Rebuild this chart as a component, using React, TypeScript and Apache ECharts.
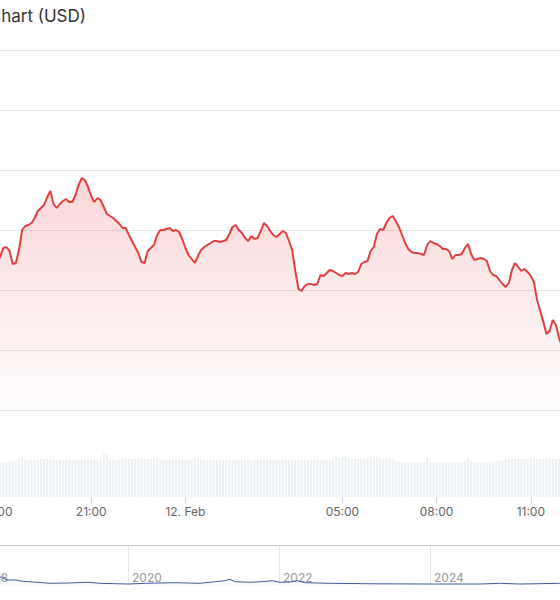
import React, { useEffect, useRef } from 'react';
import * as echarts from 'echarts';

const titleText = 'Price Chart (USD)';

// 6-minute samples starting 11 Feb 18:00
const startHour = 18;
const stepMinutes = 6;

const priceValues = [
  104.8, 105.3, 106.2, 106.3, 105.9, 104.6, 104.7, 106.0, 108.0, 108.4,
  108.5, 108.7, 109.2, 109.9, 110.2, 110.5, 111.3, 111.9, 110.6, 110.2,
  110.6, 110.9, 111.1, 110.8, 110.8, 111.5, 112.5, 113.2, 113.0, 112.3,
  111.4, 110.8, 111.2, 111.0, 110.3, 109.6, 109.4, 109.2, 108.9, 108.6,
  108.2, 108.2, 107.5, 106.9, 106.3, 105.7, 104.8, 104.7, 105.9, 106.2,
  106.5, 107.5, 108.0, 108.0, 108.1, 108.2, 107.9, 108.0, 107.8, 107.1,
  106.2, 105.5, 105.1, 104.7, 105.4, 106.0, 106.3, 106.5, 106.7, 106.9,
  106.9, 106.8, 106.9, 107.0, 107.6, 108.3, 108.5, 108.0, 107.7, 107.2,
  106.9, 107.4, 107.1, 107.2, 107.9, 108.7, 108.4, 107.9, 107.5, 107.3,
  107.6, 107.9, 107.7, 106.9, 106.0, 103.9, 102.1, 101.9, 102.4, 102.6,
  102.6, 102.5, 102.6, 103.5, 103.4, 103.7, 104.0, 103.9, 103.7, 103.5,
  103.4, 103.7, 103.6, 103.7, 103.6, 103.8, 104.6, 104.8, 104.9, 105.9,
  106.3, 107.6, 108.1, 108.0, 108.7, 109.2, 109.4, 108.9, 108.3, 107.5,
  106.7, 106.1, 105.8, 105.7, 105.7, 105.6, 105.5, 106.5, 106.9, 106.7,
  106.6, 106.4, 106.1, 106.1, 105.9, 105.1, 105.5, 105.5, 105.6, 106.2,
  106.6, 105.6, 105.0, 105.1, 105.2, 105.1, 104.9, 103.9, 103.5, 103.4,
  103.0, 102.6, 102.3, 102.7, 104.0, 104.7, 104.3, 103.9, 104.1, 103.8,
  103.4, 102.8, 101.0, 99.9, 98.8, 97.6, 97.9, 99.0, 98.5, 97.2,
  96.3,
];

const volumeValues = [
  34, 35, 34, 35, 36, 36, 37, 38, 40, 37,
  36, 37, 37, 37, 38, 38, 38, 38, 37, 37,
  37, 36, 37, 37, 37, 37, 37, 37, 37, 37,
  37, 37, 37, 38, 43, 42, 38, 38, 37, 37,
  38, 38, 38, 38, 38, 38, 38, 38, 38, 38,
  38, 38, 37, 37, 37, 37, 37, 37, 37, 37,
  37, 38, 37, 38, 38, 38, 37, 37, 37, 37,
  37, 37, 37, 37, 37, 37, 37, 37, 37, 37,
  37, 36, 37, 37, 37, 37, 37, 37, 37, 37,
  37, 37, 37, 37, 37, 37, 37, 37, 37, 37,
  37, 38, 37, 37, 37, 37, 37, 38, 41, 39,
  40, 41, 39, 38, 38, 38, 38, 38, 39, 41,
  40, 40, 39, 38, 38, 38, 38, 36, 35, 35,
  35, 35, 35, 35, 35, 35, 35, 40, 35, 35,
  35, 35, 35, 35, 35, 35, 35, 35, 35, 36,
  39, 36, 35, 35, 35, 35, 35, 35, 35, 36,
  36, 37, 37, 38, 38, 38, 38, 38, 38, 38,
  38, 38, 38, 38, 38, 38, 38, 38, 38, 38,
  38,
];

const tickLabels: Record<number, string> = {
  0: '18:00',
  30: '21:00',
  60: '12. Feb',
  110: '05:00',
  140: '08:00',
  170: '11:00',
};

const navYears = [
  2018.0, 2018.08, 2018.16, 2018.24, 2018.3, 2018.34, 2018.4, 2018.53, 2018.57, 2018.74,
  2018.87, 2018.97, 2019.2, 2019.47, 2019.63, 2020.0, 2020.23, 2020.62, 2020.95, 2021.15,
  2021.28, 2021.35, 2021.42, 2021.62, 2021.77, 2021.91, 2022.01, 2022.15, 2022.24, 2022.34,
  2022.68, 2023.3, 2024.0, 2024.66, 2024.93, 2025.19, 2025.72,
];
const navValues = [
  70, 48, 32, 24, 20.8, 18, 12.5, 12.5, 10, 7.5,
  5.8, 4.2, 5, 6.8, 4.2, 2.5, 4.2, 5.8, 4.2, 8.2,
  10.8, 14.2, 8.2, 6.8, 8.2, 10.8, 6.8, 7.5, 10.8, 5.8,
  4.2, 3, 2.5, 2.5, 4.2, 2.5, 4.2,
];

const pad = (n: number) => (n < 10 ? '0' + n : '' + n);
const times = priceValues.map((_, i) => {
  const m = startHour * 60 + i * stepMinutes;
  return pad(Math.floor(m / 60) % 24) + ':' + pad(m % 60);
});

const isTick = (i: number) => tickLabels[i] !== undefined;

const App: React.FC = () => {
  const chartRef = useRef<HTMLDivElement>(null);

  useEffect(() => {
    if (!chartRef.current) return;
    const chart = echarts.init(chartRef.current, null, { renderer: 'svg' });

    chart.setOption({
      animation: false,
      backgroundColor: '#ffffff',
      textStyle: { fontFamily: 'Inter, "Noto Sans", sans-serif' },
      graphic: [
        {
          type: 'text',
          right: 474,
          top: 7,
          style: { text: titleText, fontSize: 17, fill: '#333333', fontFamily: 'Inter' },
        },
      ],
      grid: [
        { left: -3, right: -2.2, top: 50, bottom: 190, outerBoundsMode: 'none', containLabel: false },
        { left: -3, right: -2.2, top: 437, bottom: 103, outerBoundsMode: 'none', containLabel: false },
        { left: -23, right: -21, top: 545, bottom: 15, outerBoundsMode: 'none', containLabel: false },
      ],
      xAxis: [
        { type: 'category', gridIndex: 0, data: times, boundaryGap: false, show: false },
        {
          type: 'category',
          gridIndex: 1,
          data: times,
          boundaryGap: false,
          axisLine: { show: false },
          axisTick: {
            show: true,
            interval: (i: number) => isTick(i),
            length: 7,
            lineStyle: { color: '#ccd6eb' },
          },
          axisLabel: {
            interval: (i: number) => isTick(i),
            formatter: (_v: string, i: number) => tickLabels[i] ?? '',
            color: '#666666',
            fontSize: 12,
            margin: 8,
            showMinLabel: true,
          },
          splitLine: { show: false },
        },
        {
          type: 'value',
          gridIndex: 2,
          min: 2018,
          max: 2026,
          interval: 2,
          axisLine: { show: false },
          axisTick: { show: false },
          splitLine: { show: true, lineStyle: { color: '#e6e6e6' } },
          axisLabel: {
            inside: true,
            align: 'left',
            padding: [0, 0, 0, 4],
            margin: 2,
            color: '#999999',
            fontSize: 12,
            formatter: (v: number) => String(v),
          },
        },
        {
          type: 'value',
          gridIndex: 2,
          position: 'top',
          min: 2018,
          max: 2026,
          axisLine: { show: true, lineStyle: { color: '#cccccc' } },
          axisTick: { show: false },
          axisLabel: { show: false },
          splitLine: { show: false },
        },
      ],
      yAxis: [
        {
          type: 'value',
          gridIndex: 0,
          min: 90,
          max: 126,
          interval: 6,
          axisLine: { show: false },
          axisTick: { show: false },
          axisLabel: { show: false },
          splitLine: { show: true, lineStyle: { color: '#e6e6e6' } },
        },
        {
          type: 'value',
          gridIndex: 1,
          min: 0,
          max: 60,
          show: false,
          splitLine: { show: false },
        },
        {
          type: 'value',
          gridIndex: 2,
          min: 0,
          max: 100,
          show: false,
          splitLine: { show: false },
        },
      ],
      series: [
        {
          name: 'Price',
          type: 'line',
          xAxisIndex: 0,
          yAxisIndex: 0,
          data: priceValues,
          showSymbol: false,
          lineStyle: { color: '#e0403f', width: 2 },
          itemStyle: { color: '#e0403f' },
          areaStyle: {
            color: new echarts.graphic.LinearGradient(0, 0, 0, 1, [
              { offset: 0, color: 'rgba(236, 64, 64, 0.3)' },
              { offset: 1, color: 'rgba(236, 64, 64, 0.01)' },
            ]),
          },
        },
        {
          name: 'Volume',
          type: 'bar',
          xAxisIndex: 1,
          yAxisIndex: 1,
          data: volumeValues,
          barWidth: 2,
          itemStyle: { color: '#edf0f3' },
        },
        {
          name: 'Navigator',
          type: 'line',
          xAxisIndex: 2,
          yAxisIndex: 2,
          data: navYears.map((y, i) => [y, navValues[i]]),
          showSymbol: false,
          lineStyle: { color: '#3f5f99', width: 1 },
          areaStyle: { color: 'rgba(51, 92, 173, 0.05)' },
        },
      ],
    });

    return () => chart.dispose();
  }, []);

  return (
    <div
      ref={chartRef}
      style={{ position: 'absolute', left: 0, top: 0, width: 560, height: 600, background: '#fff' }}
    />
  );
};

export default App;
